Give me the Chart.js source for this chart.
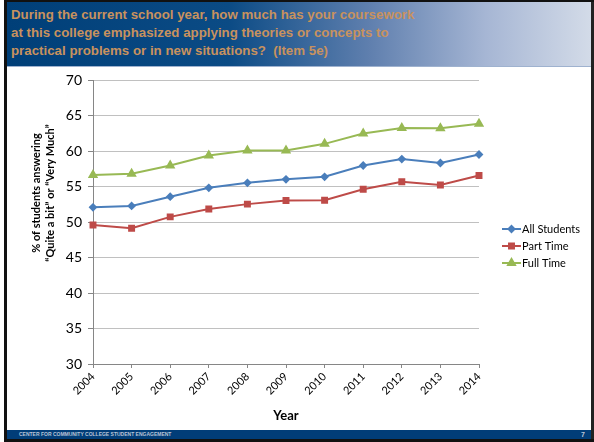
<!DOCTYPE html>
<html>
<head>
<meta charset="utf-8">
<script src="https://cdn.jsdelivr.net/npm/chart.js@4/dist/chart.umd.min.js"></script>
<style>
  html, body { margin: 0; padding: 0; background: #fff; }
  #slide { position: relative; width: 594px; height: 442px; background: #fff; overflow: hidden; }
  #frameL { position: absolute; left: 4px; top: 0; width: 3px; height: 442px; background: #111; }
  #frameR { position: absolute; left: 591px; top: 0; width: 3px; height: 442px; background: #222; }
  #frameT { position: absolute; left: 4px; top: 0; width: 590px; height: 2px; background: #111; }
  #title {
    position: absolute; left: 7px; top: 2px; width: 584px; height: 64px;
    background: linear-gradient(to right, #003f78 0%, #0b4b85 38%, #5f7fae 62%, #a6b6d4 82%, #d3dbe8 100%);
    border-bottom: 1px solid #9fb2cf;
  }
  #title div {
    position: absolute; left: 4px; top: 4px;
    font-family: "Liberation Sans", Arial, sans-serif; font-weight: bold;
    font-size: 13.3px; line-height: 18px; color: #c8925e;
  }
  #footer {
    position: absolute; left: 7px; top: 430px; width: 584px; height: 9px;
    background: #013d78;
  }
  #footer span {
    position: absolute; top: 0px; font-family: "Liberation Sans", Arial, sans-serif;
    font-weight: bold; font-size: 5px; line-height: 9px; color: #b9c4d6;
  }
  #frameB { position: absolute; left: 4px; top: 439px; width: 590px; height: 3px; background: #111; }
  #wrap { position: absolute; left: 7px; top: 66px; width: 584px; height: 364px; }
</style>
</head>
<body>
<div id="slide">
  <div id="title"><div>During the current school year, how much has your coursework<br>at this college emphasized applying theories or concepts to<br>practical problems or in new situations?&nbsp; (Item 5e)</div></div>
  <div id="wrap"><canvas id="myChart" width="584" height="364"></canvas></div>
  <div id="footer"><span style="left:12px">CENTER FOR COMMUNITY COLLEGE STUDENT ENGAGEMENT</span><span style="right:6px;font-size:7px">7</span></div>
  <div id="frameL"></div><div id="frameR"></div><div id="frameT"></div><div id="frameB"></div>
</div>
<script>
const years = ['2004', '2005', '2006', '2007', '2008', '2009', '2010', '2011', '2012', '2013', '2014'];
const allStudents = [52.1, 52.3, 53.6, 54.85, 55.55, 56.05, 56.4, 58.0, 58.9, 58.35, 59.55];
const partTime = [49.6, 49.15, 50.75, 51.85, 52.55, 53.05, 53.1, 54.65, 55.7, 55.25, 56.6];
const fullTime = [56.65, 56.85, 58.0, 59.4, 60.1, 60.1, 61.05, 62.5, 63.3, 63.25, 63.9];
const seriesNames = ['All Students', 'Part Time', 'Full Time'];
const yTicks = [30, 35, 40, 45, 50, 55, 60, 65, 70];
const yTitle = ['% of students answering', '\u201cQuite a bit\u201d or \u201cVery Much\u201d'];

const colors = ['#4a7ebb', '#be4b48', '#98b954'];
const markers = ['rectRot', 'rect', 'triangle'];
const markerSizes = [3, 3.5, 4];

const FONT = 'Lato, "Open Sans", sans-serif';

// legend drawn on the canvas: line + marker, like the office chart
const sideLegend = {
  id: 'sideLegend',
  afterDraw(chart) {
    const ctx = chart.ctx;
    const x0 = 495, y0 = 163, gap = 17;
    chart.data.datasets.forEach((ds, i) => {
      const y = y0 + i * gap;
      ctx.save();
      ctx.strokeStyle = ds.borderColor;
      ctx.lineWidth = 2;
      ctx.beginPath();
      ctx.moveTo(x0, y);
      ctx.lineTo(x0 + 19, y);
      ctx.stroke();
      Chart.helpers.drawPoint(ctx, {
        pointStyle: ds.pointStyle, radius: ds.pointRadius, borderWidth: 1, rotation: 0
      }, x0 + 9.5, y);
      ctx.fillStyle = ds.borderColor;
      ctx.fill();
      ctx.fillStyle = '#000';
      ctx.font = '11px ' + FONT;
      ctx.textBaseline = 'middle';
      ctx.fillText(ds.label, x0 + 20, y + 0.5);
      ctx.restore();
    });
  }
};

// y axis title, placed where the reference has it
const yAxisTitle = {
  id: 'yAxisTitle',
  afterDraw(chart) {
    const ctx = chart.ctx;
    ctx.save();
    ctx.translate(29, 127);
    ctx.rotate(-Math.PI / 2);
    ctx.fillStyle = '#000';
    ctx.font = 'bold 11px ' + FONT;
    ctx.textAlign = 'center';
    ctx.textBaseline = 'middle';
    yTitle.forEach((t, i) => ctx.fillText(t, 0, i * 14.5));
    ctx.restore();
  }
};

const ctx = document.getElementById('myChart').getContext('2d');
const myChart = new Chart(ctx, {
  type: 'line',
  data: {
    labels: years,
    datasets: [allStudents, partTime, fullTime].map((vals, i) => ({
      label: seriesNames[i],
      data: vals,
      borderColor: colors[i],
      backgroundColor: colors[i],
      pointBackgroundColor: colors[i],
      pointBorderColor: colors[i],
      pointStyle: markers[i],
      pointRadius: markerSizes[i],
      borderWidth: 2,
      tension: 0
    }))
  },
  options: {
    responsive: false,
    animation: false,
    layout: { padding: { top: 12, right: 112, left: 0, bottom: 0 } },
    plugins: { legend: { display: false }, tooltip: { enabled: false } },
    scales: {
      x: {
        offset: false,
        grid: { drawOnChartArea: false, drawTicks: true, tickLength: 4, color: '#868686' },
        border: { color: '#868686', width: 1 },
        ticks: { color: '#000', font: { family: FONT, size: 11 }, maxRotation: 45, minRotation: 45, padding: 2 },
        title: { display: true, text: 'Year', color: '#000', font: { family: FONT, size: 13, weight: 'bold' }, padding: { top: 0, bottom: 6 } },
        afterFit(s) { s.height = 66; }
      },
      y: {
        min: 30, max: 70,
        afterBuildTicks(s) { s.ticks = yTicks.map(v => ({ value: v })); },
        grid: { color: '#c0c0c0', tickLength: 5, tickColor: '#868686' },
        border: { color: '#868686', width: 1 },
        ticks: { color: '#000', font: { family: FONT, size: 14 }, padding: 6 },
        afterFit(s) { s.width = 86; }
      }
    }
  },
  plugins: [sideLegend, yAxisTitle]
});
</script>
</body>
</html>
